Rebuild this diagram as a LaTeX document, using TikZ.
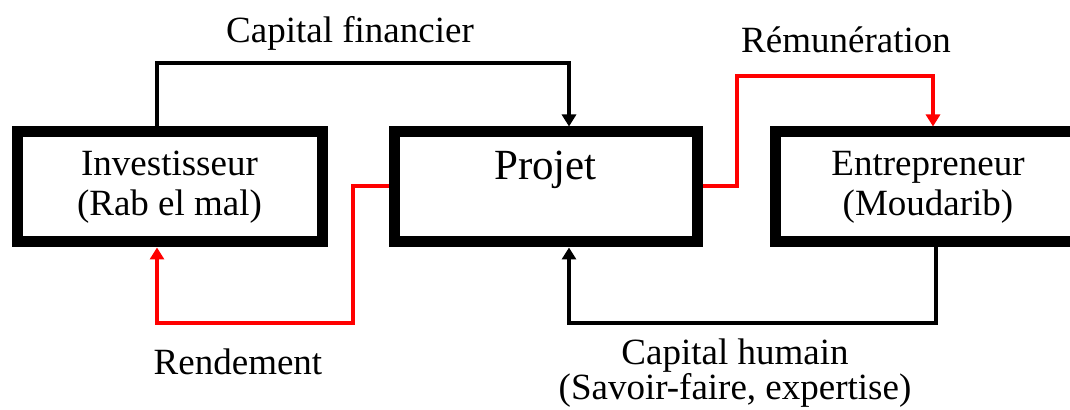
\documentclass[tikz,border=0pt]{standalone}
\usepackage{fontspec}
\setmainfont{Liberation Serif}
\usetikzlibrary{arrows.meta,calc}
\begin{document}
\begin{tikzpicture}[x=0.5pt,y=-0.5pt,
  box/.style={draw,line width=5.5pt,minimum width=152.5pt,minimum height=55pt,inner sep=0pt,align=center,font=\fontsize{18.5}{20}\selectfont},
  lbl/.style={font=\fontsize{18.5}{20}\selectfont,inner sep=0pt,align=center},
  conn/.style={line width=1.7pt},
  redconn/.style={conn,red},
  tip/.style={-{Triangle[width=7pt,length=6pt]}}]
\useasboundingbox (0,0) rectangle (1070,410);
\clip (0,0) rectangle (1070,410);
% boxes
\node[box] (inv) at (169.5,187) {Investisseur\\(Rab el mal)};
\node[box,minimum width=151.5pt] (proj) at (545.5,187) {};
\node[font=\fontsize{21.5}{24}\selectfont,inner sep=0pt] (projt) at (545.5,170) {Projet};
\node[box] (ent) at (928,187) {Entrepreneur\\(Moudarib)};
% bend points
\coordinate (cfL) at (157,63);
\coordinate (cfR) at (569,63);
\coordinate (rdA) at (353,186);
\coordinate (rdB) at (353,323);
\coordinate (rdC) at (157,323);
\coordinate (rmA) at (737,186);
\coordinate (rmB) at (737,76);
\coordinate (rmC) at (933,76);
\coordinate (chA) at (936,323);
\coordinate (chB) at (569,323);
% connectors
\draw[conn,tip] (inv.north -| cfL) -- (cfL) -- (cfR) -- (proj.north -| cfR);
\draw[redconn,tip] (proj.west |- rdA) -- (rdA) -- (rdB) -- (rdC) -- (inv.south -| rdC);
\draw[redconn,tip] (proj.east |- rmA) -- (rmA) -- (rmB) -- (rmC) -- (ent.north -| rmC);
\draw[conn,tip] (ent.south -| chA) -- (chA) -- (chB) -- (proj.south -| chB);
% labels
\node[lbl] (lcf) at (350,33) {Capital financier};
\node[lbl] (lrm) at (846,40) {Rémunération};
\node[lbl] (lrd) at (238,362) {Rendement};
\node[lbl,font=\fontsize{18.5}{17.5}\selectfont] (lch) at (735,373) {Capital humain\\(Savoir-faire, expertise)};
\end{tikzpicture}
\end{document}
